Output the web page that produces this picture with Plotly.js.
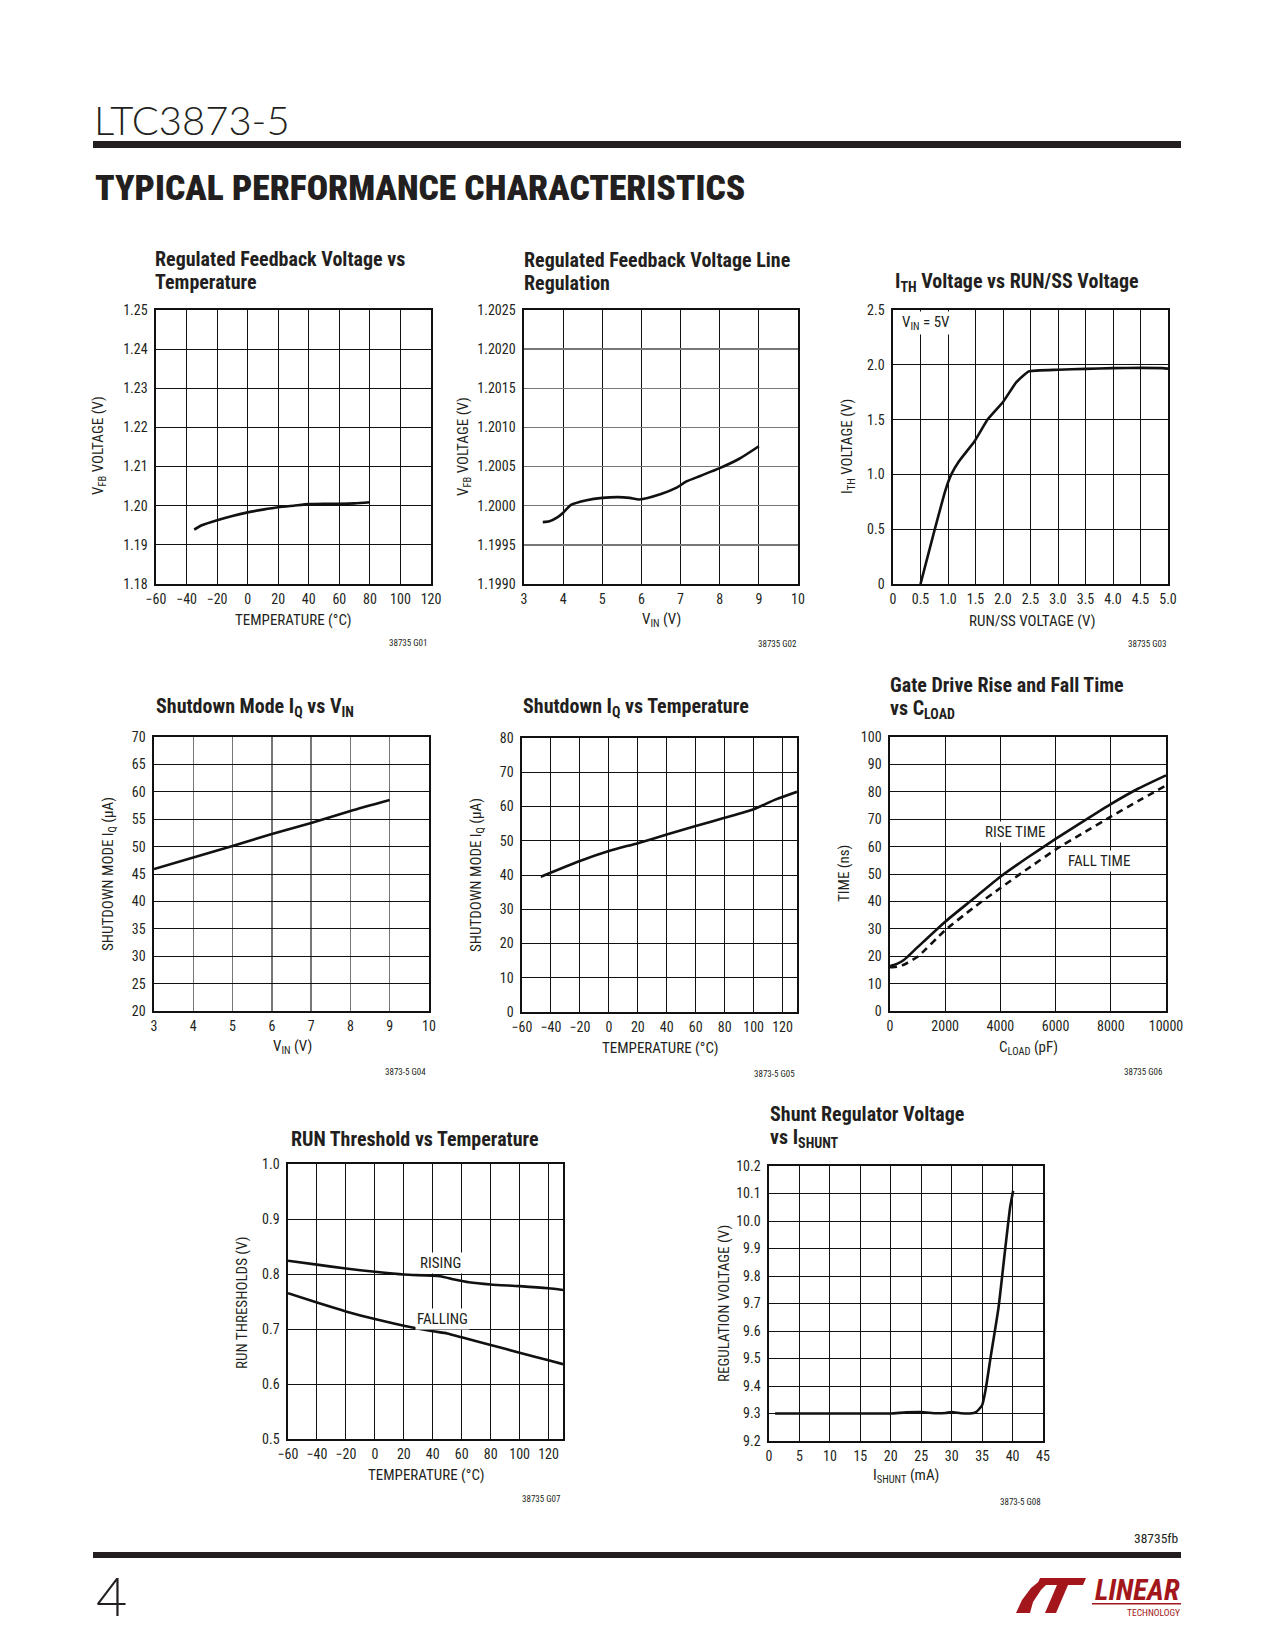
<!DOCTYPE html>
<html><head><meta charset="utf-8">
<script src="https://cdn.plot.ly/plotly-3.0.1.min.js"></script>
<style>html,body{margin:0;padding:0;background:#fff}#page{width:1275px;height:1650px}</style>
</head><body><div id="page"></div>
<script>
// ---------- DATA ----------
// G01 Regulated feedback voltage vs temperature
const G01_TEMP = [-35, -30, -20, -10, 0, 10, 20, 30, 40, 50, 60, 70, 80];
const G01_VFB  = [1.1939, 1.1950, 1.1963, 1.1974, 1.1983, 1.1990, 1.1996, 1.2000, 1.2004, 1.2005, 1.2005, 1.2006, 1.2009];
// G02 Line regulation
const G02_VIN = [3.48, 3.65, 3.85, 4.0, 4.2, 4.6, 5.0, 5.4, 5.7, 5.95, 6.5, 6.9, 7.15, 7.5, 8.0, 8.5, 9.0];
const G02_VFB = [1.19979, 1.19980, 1.19985, 1.19991, 1.20001, 1.20007, 1.20010, 1.20011, 1.20010, 1.20008, 1.20015, 1.20023, 1.20031, 1.20038, 1.20048, 1.20060, 1.20076];
// G03 ITH vs RUN/SS
const G03_RUNSS = [0.5, 0.76, 0.95, 1.06, 1.2, 1.48, 1.72, 2.0, 2.24, 2.47, 3.0, 3.5, 4.0, 4.5, 4.9, 5.0];
const G03_ITH   = [0, 0.5, 0.85, 1.0, 1.12, 1.30, 1.50, 1.66, 1.84, 1.94, 1.955, 1.963, 1.97, 1.972, 1.97, 1.965];
const G03_X_TICKS = [0, 0.5, 1, 1.5, 2, 2.5, 3, 3.5, 4, 4.5, 5];
const G03_X_LABELS = ['0', '0.5', '1.0', '1.5', '2.0', '2.5', '3.0', '3.5', '4.0', '4.5', '5.0'];
const G03_Y_TICKS = [0, 0.5, 1, 1.5, 2, 2.5];
const G03_Y_LABELS = ['0', '0.5', '1.0', '1.5', '2.0', '2.5'];
// G04 Shutdown IQ vs VIN
const G04_VIN = [3, 4, 5, 6, 7, 8, 9];
const G04_IQ  = [45.9, 48.0, 50.1, 52.3, 54.3, 56.5, 58.5];
// G05 Shutdown IQ vs temperature
const G05_TEMP = [-47, -20, 0, 20, 40, 60, 80, 100, 115, 130];
const G05_IQ   = [39.5, 44.1, 47.0, 49.3, 51.8, 54.3, 56.7, 59.2, 62.0, 64.3];
// G06 Gate drive rise / fall time vs CLOAD
const G06_RISE_C = [0, 250, 500, 1000, 2000, 3000, 4000, 5000, 6000, 7000, 8000, 9000, 10000];
const G06_RISE_T = [16.4, 17.2, 18.6, 23.3, 32.6, 40.8, 49.0, 56.1, 62.8, 69.2, 75.5, 81.2, 86.0];
const G06_FALL_C = [0, 250, 500, 1000, 2000, 3000, 4000, 5000, 6000, 7000, 8000, 9000, 10000];
const G06_FALL_T = [16.0, 16.2, 16.9, 19.8, 29.5, 37.5, 44.9, 52.0, 58.9, 65.0, 70.9, 76.7, 82.3];
// G07 RUN threshold vs temperature
const G07_TEMP    = [-60, -40, -20, 0, 20, 45, 55, 65, 80, 100, 120, 130];
const G07_RISING  = [0.824, 0.817, 0.810, 0.804, 0.799, 0.796, 0.790, 0.785, 0.781, 0.778, 0.774, 0.771];
const G07_TEMP_F  = [-60, -40, -20, 0, 20, 40, 50, 60, 80, 100, 120, 130];
const G07_FALLING = [0.765, 0.748, 0.732, 0.718, 0.706, 0.696, 0.692, 0.685, 0.671, 0.657, 0.643, 0.636];
const G07_Y_TICKS = [0.5, 0.6, 0.7, 0.8, 0.9, 1.0];
const G07_Y_LABELS = ['0.5', '0.6', '0.7', '0.8', '0.9', '1.0'];
// G08 Shunt regulator voltage vs ISHUNT
const G08_ISHUNT = [1, 5, 10, 15, 20, 22.5, 25, 27.5, 29, 30, 31.5, 33, 34, 35, 35.6, 36.4, 37.7, 38.8, 39.6, 40.1];
const G08_VREG   = [9.300, 9.300, 9.300, 9.300, 9.300, 9.304, 9.305, 9.301, 9.302, 9.305, 9.301, 9.300, 9.305, 9.33, 9.39, 9.505, 9.686, 9.90, 10.05, 10.11];

// ---------- LAYOUT HELPERS ----------
const W = 1275, H = 1650;
const fx = x => x / W;
const fy = y => 1 - y / H;
const NARROW = "'Liberation Sans Narrow','Arial Narrow','Roboto Condensed','DejaVu Sans Condensed','Liberation Sans',sans-serif";
const INK = '#231f20';

const layout = {
  width: W, height: H, margin: {l: 0, r: 0, t: 0, b: 0},
  paper_bgcolor: '#fff', plot_bgcolor: '#fff', showlegend: false,
  font: {family: NARROW, size: 14, color: INK},
  annotations: [], shapes: []
};
const traces = [];

function addChart(i, box, xopt, yopt) {
  const xs = i === 1 ? '' : String(i);
  const base = {
    showgrid: true, gridcolor: '#111', gridwidth: 1,
    zeroline: false, showline: true, linecolor: '#111', linewidth: 1.6, mirror: true,
    ticks: '', tickfont: {family: NARROW, size: 14, color: INK}, fixedrange: true
  };
  layout['xaxis' + xs] = Object.assign({}, base, {
    domain: [fx(box[0]), fx(box[1])], anchor: 'y' + xs, ticklabelstandoff: 2
  }, xopt);
  layout['yaxis' + xs] = Object.assign({}, base, {
    domain: [fy(box[3]), fy(box[2])], anchor: 'x' + xs, ticklabelstandoff: 4
  }, yopt);
  return {xa: 'x' + xs, ya: 'y' + xs};
}
function line(ax, x, y, extra) {
  traces.push(Object.assign({
    x: x, y: y, xaxis: ax.xa, yaxis: ax.ya, type: 'scatter', mode: 'lines',
    line: {color: '#111', width: 2.6, shape: 'spline', smoothing: 0.6}, hoverinfo: 'skip'
  }, extra || {}));
}
function note(text, x, y, o) {
  layout.annotations.push(Object.assign({
    text: text, x: fx(x), y: fy(y), xref: 'paper', yref: 'paper',
    showarrow: false, xanchor: 'center', yanchor: 'middle',
    font: {family: NARROW, size: 15, color: INK}
  }, o || {}));
}
function title(text, x, y) {
  note(text, x, y, {xanchor: 'left', font: {family: NARROW, size: 20, color: INK, weight: 700}});
}
function ytitle(text, x, y) { note(text, x, y, {textangle: -90}); }
function gid(text, x, y) { note(text, x, y, {xanchor: 'right', font: {family: NARROW, size: 9, color: INK}}); }
function label(text, x, y) { note(text, x, y, {bgcolor: '#fff', borderpad: 1}); }
function rect(x0, y0, x1, y1, color) {
  layout.shapes.push({type: 'rect', xref: 'paper', yref: 'paper', x0: fx(x0), x1: fx(x1), y0: fy(y1), y1: fy(y0),
    fillcolor: color, line: {width: 0}});
}

// ---------- CHARTS ----------
// G01
let a = addChart(1, [156, 431, 310, 584],
  {range: [-60, 120], dtick: 20, tick0: 0},
  {range: [1.18, 1.25], dtick: 0.01, tick0: 1.18, tickformat: '.2f'});
line(a, G01_TEMP, G01_VFB);
title('Regulated Feedback Voltage vs', 153, 259);
title('Temperature', 153, 282);
note('TEMPERATURE (°C)', 293, 620);
ytitle('V<sub>FB</sub> VOLTAGE (V)', 99, 446);
gid('38735 G01', 429, 643);

// G02
a = addChart(2, [524, 798, 310, 584],
  {range: [3, 10], dtick: 1},
  {range: [1.199, 1.2025], dtick: 0.0005, tick0: 1.199, tickformat: '.4f', gridcolor: '#777', gridwidth: 1.4});
line(a, G02_VIN, G02_VFB);
title('Regulated Feedback Voltage Line', 522, 260);
title('Regulation', 522, 283);
note('V<sub>IN</sub> (V)', 661, 620);
ytitle('V<sub>FB</sub> VOLTAGE (V)', 464, 446);
gid('38735 G02', 799, 644);

// G03
a = addChart(3, [893, 1168, 310, 584],
  {range: [0, 5], tickvals: G03_X_TICKS, ticktext: G03_X_LABELS},
  {range: [0, 2.5], tickvals: G03_Y_TICKS, ticktext: G03_Y_LABELS});
line(a, G03_RUNSS, G03_ITH, {line: {color: '#111', width: 2.6, shape: 'spline', smoothing: 0.4}});
title('I<sub>TH</sub> Voltage vs RUN/SS Voltage', 893, 282);
note('RUN/SS VOLTAGE (V)', 1032, 621);
ytitle('I<sub>TH</sub> VOLTAGE (V)', 848, 446);
note('V<sub>IN</sub> = 5V', 900, 323, {xanchor: 'left', bgcolor: '#fff', borderpad: 1});
gid('38735 G03', 1168, 644);

// G04
a = addChart(4, [154, 429, 737, 1011],
  {range: [3, 10], dtick: 1, gridcolor: '#777', gridwidth: 1.4},
  {range: [20, 70], dtick: 5, tick0: 20});
line(a, G04_VIN, G04_IQ);
title('Shutdown Mode I<sub>Q</sub> vs V<sub>IN</sub>', 154, 707);
note('V<sub>IN</sub> (V)', 292, 1047);
ytitle('SHUTDOWN MODE I<sub>Q</sub> (μA)', 109, 874);
gid('3873-5 G04', 428, 1072);

// G05
a = addChart(5, [522, 797, 738, 1012],
  {range: [-60, 130], dtick: 20, tick0: 0},
  {range: [0, 80], dtick: 10});
line(a, G05_TEMP, G05_IQ);
title('Shutdown I<sub>Q</sub> vs Temperature', 521, 707);
note('TEMPERATURE (°C)', 660, 1048);
ytitle('SHUTDOWN MODE I<sub>Q</sub> (μA)', 477, 875);
gid('3873-5 G05', 797, 1074);

// G06
a = addChart(6, [890, 1166, 737, 1011],
  {range: [0, 10000], dtick: 2000, tickformat: 'd'},
  {range: [0, 100], dtick: 10});
line(a, G06_RISE_C, G06_RISE_T, {line: {color: '#111', width: 2.6, shape: 'spline', smoothing: 0.5}});
line(a, G06_FALL_C, G06_FALL_T, {line: {color: '#111', width: 2.6, dash: '7px,5px', shape: 'spline', smoothing: 0.5}});
title('Gate Drive Rise and Fall Time', 888, 685);
title('vs C<sub>LOAD</sub>', 888, 709);
note('C<sub>LOAD</sub> (pF)', 1028, 1048);
ytitle('TIME (ns)', 844, 874);
label('RISE TIME', 1015, 832);
label('FALL TIME', 1099, 861);
gid('38735 G06', 1164, 1072);

// G07
a = addChart(7, [288, 563, 1164, 1439],
  {range: [-60, 130], dtick: 20, tick0: 0},
  {range: [0.5, 1.0], tickvals: G07_Y_TICKS, ticktext: G07_Y_LABELS});
line(a, G07_TEMP, G07_RISING);
line(a, G07_TEMP_F, G07_FALLING);
title('RUN Threshold vs Temperature', 289, 1139);
note('TEMPERATURE (°C)', 426, 1475);
ytitle('RUN THRESHOLDS (V)', 242, 1302);
label('RISING', 440, 1263);
label('FALLING', 442, 1319);
gid('38735 G07', 563, 1499);

// G08
a = addChart(8, [769, 1043, 1166, 1441],
  {range: [0, 45], dtick: 5},
  {range: [9.2, 10.2], dtick: 0.1, tick0: 9.2, tickformat: '.1f'});
line(a, G08_ISHUNT, G08_VREG, {line: {color: '#111', width: 2.6, shape: 'spline', smoothing: 0.5}});
title('Shunt Regulator Voltage', 768, 1114);
title('vs I<sub>SHUNT</sub>', 768, 1138);
note('I<sub>SHUNT</sub> (mA)', 906, 1476);
ytitle('REGULATION VOLTAGE (V)', 724, 1304);
gid('3873-5 G08', 1043, 1502);

// ---------- PAGE HEADER / FOOTER ----------
note('LTC3873-5', 92, 120, {xanchor: 'left', font: {family: "Lato,'Open Sans',Roboto,sans-serif", size: 40, color: INK, weight: 300}});
rect(93, 141, 1181, 148, INK);
note('TYPICAL PERFORMANCE CHARACTERISTICS', 93, 188, {xanchor: 'left', font: {family: NARROW, size: 35.5, color: INK, weight: 900}});
note('38735fb', 1181, 1538, {xanchor: 'right', font: {family: NARROW, size: 13.5, color: INK}});
rect(93, 1552, 1181, 1558, INK);
note('4', 94, 1595, {xanchor: 'left', font: {family: "Lato,'Open Sans',Roboto,sans-serif", size: 54, color: INK, weight: 300}});

// Linear Technology logo (decorative)
const RED = '#a3161b';
function pathPx(pts) {
  return 'M' + pts.map(p => fx(p[0]).toFixed(5) + ',' + fy(p[1]).toFixed(5)).join('L') + 'Z';
}
layout.shapes.push({type: 'path', xref: 'paper', yref: 'paper', fillcolor: RED, line: {width: 0},
  path: pathPx([[1016, 1613], [1022, 1600], [1031, 1588], [1042, 1579], [1052, 1579], [1041, 1590], [1033, 1602], [1030, 1613]])});
layout.shapes.push({type: 'path', xref: 'paper', yref: 'paper', fillcolor: RED, line: {width: 0},
  path: pathPx([[1040, 1578], [1086, 1578], [1083, 1585], [1068, 1585], [1056, 1613], [1045, 1613], [1057, 1585], [1037, 1585]])});
note('<b><i>LINEAR</i></b>', 1182, 1590, {xanchor: 'right', font: {family: NARROW, size: 29, color: RED}});
rect(1092, 1603, 1181, 1604.5, RED);
note('TECHNOLOGY', 1182, 1612, {xanchor: 'right', font: {family: NARROW, size: 9.5, color: RED}});

Plotly.newPlot('page', traces, layout, {staticPlot: true, displayModeBar: false});
</script></body></html>
